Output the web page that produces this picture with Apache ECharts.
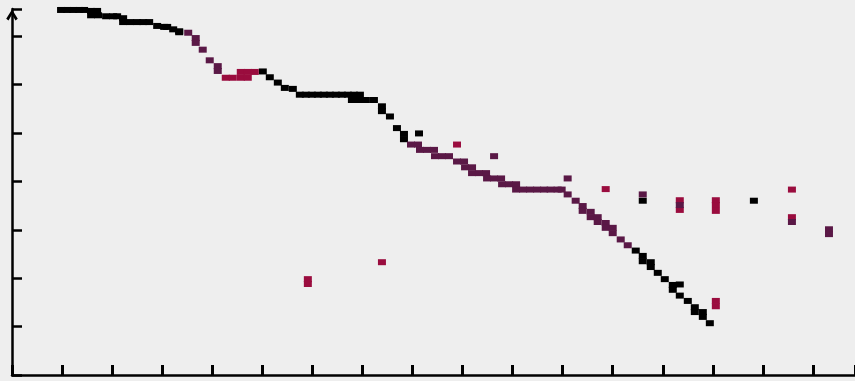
<!DOCTYPE html>
<html>
<head>
<meta charset="utf-8">
<script src="https://cdn.jsdelivr.net/npm/echarts@6/dist/echarts.min.js"></script>
<style>
  html, body { margin: 0; padding: 0; background: #eeeeee; }
  #chart { width: 855px; height: 381px; }
</style>
</head>
<body>
<div id="chart"></div>
<script>
// points, [x, y] in axis units (1 unit = 1 tick)
const blackPoints = [
  [0.98, 7.54], [1.10, 7.54], [1.22, 7.54], [1.34, 7.54], [1.44, 7.54],
  [1.58, 7.52], [1.70, 7.52], [1.58, 7.43], [1.72, 7.43],
  [1.88, 7.41], [2.02, 7.41], [2.10, 7.41],
  [2.22, 7.37], [2.22, 7.29], [2.36, 7.29], [2.50, 7.29], [2.62, 7.29], [2.74, 7.29],
  [2.90, 7.21], [3.04, 7.19], [3.10, 7.19],
  [3.22, 7.14], [3.34, 7.10], [3.34, 7.08],
  [5.01, 6.27], [5.15, 6.15], [5.31, 6.04], [5.45, 5.93], [5.61, 5.91],
  [5.75, 5.79], [5.87, 5.79], [5.99, 5.79], [6.11, 5.79], [6.23, 5.79], [6.35, 5.79],
  [6.47, 5.79], [6.59, 5.79], [6.71, 5.79], [6.83, 5.79], [6.95, 5.79],
  [6.79, 5.68], [6.93, 5.68], [7.07, 5.68], [7.23, 5.68],
  [7.39, 5.55], [7.39, 5.45], [7.55, 5.34], [7.69, 5.10],
  [7.83, 4.98], [7.83, 4.87], [8.13, 4.99],
  [12.46, 2.57], [12.60, 2.46], [12.60, 2.35], [12.76, 2.33], [12.76, 2.23],
  [12.90, 2.11], [13.04, 1.98], [13.20, 1.86], [13.20, 1.76], [13.34, 1.87],
  [13.34, 1.64], [13.50, 1.53], [13.64, 1.40], [13.64, 1.30], [13.80, 1.30],
  [13.80, 1.20], [13.94, 1.07],
  [12.60, 3.60], [14.82, 3.60]
];

const purplePoints = [
  [3.52, 7.07], [3.67, 6.96], [3.67, 6.86], [3.81, 6.72], [3.95, 6.50], [4.11, 6.38], [4.11, 6.28],
  [7.97, 4.76], [8.11, 4.76],
  [8.15, 4.65], [8.29, 4.65], [8.43, 4.65],
  [8.45, 4.52], [8.59, 4.52], [8.73, 4.52],
  [8.89, 4.41], [9.03, 4.41],
  [9.05, 4.29], [9.19, 4.29],
  [9.19, 4.17], [9.33, 4.17], [9.47, 4.17],
  [9.49, 4.06], [9.63, 4.06], [9.77, 4.06],
  [9.79, 3.94], [9.93, 3.94], [10.07, 3.94],
  [10.07, 3.83], [10.21, 3.83], [10.35, 3.83], [10.49, 3.83], [10.63, 3.83],
  [10.76, 3.83], [10.90, 3.83], [10.98, 3.83],
  [9.63, 4.52], [11.10, 4.06],
  [11.10, 3.73], [11.26, 3.60], [11.40, 3.49], [11.40, 3.39], [11.56, 3.37], [11.56, 3.26],
  [11.70, 3.26], [11.70, 3.16], [11.86, 3.14], [11.86, 3.04], [12.00, 3.04], [12.00, 2.93],
  [12.16, 2.80], [12.30, 2.68],
  [12.60, 3.73], [15.58, 3.16], [16.32, 3.01], [16.32, 2.91]
];

const crimsonPoints = [
  [4.27, 6.14], [4.41, 6.14], [4.57, 6.14], [4.57, 6.26], [4.71, 6.26], [4.71, 6.14], [4.85, 6.26],
  [5.91, 1.98], [5.91, 1.88], [7.39, 2.33], [8.89, 4.76], [11.86, 3.84],
  [13.34, 3.61], [13.34, 3.41],
  [14.06, 3.61], [14.06, 3.51], [14.06, 3.39], [14.06, 1.53], [14.06, 1.42],
  [15.58, 3.83], [15.58, 3.26]
];

const purpleOverlay = [[13.34, 3.51]];

const chart = echarts.init(document.getElementById('chart'));

const dotSeries = (data, color) => ({
  type: 'scatter',
  data: data,
  symbol: 'rect',
  symbolSize: [8, 6],
  clip: false,
  silent: true,
  itemStyle: { color: color, opacity: 1 }
});

// open chevron like the reference's arrow head
const arrowHead = 'path://M0,8 L5,0 L10,8 L8,9.5 L5,4.4 L2,9.5 Z';

chart.setOption({
  backgroundColor: '#eeeeee',
  animation: false,
  grid: { left: 12, right: 0, top: 9, bottom: 6 },
  xAxis: {
    type: 'value',
    min: 0,
    max: 16.84,
    interval: 1,
    axisLine: { show: true, lineStyle: { color: '#000', width: 2.5 } },
    axisTick: { show: true, inside: true, length: 10, lineStyle: { color: '#000', width: 3 } },
    axisLabel: { show: false },
    splitLine: { show: false }
  },
  yAxis: {
    type: 'value',
    min: 0,
    max: 7.56,
    interval: 1,
    axisLine: {
      show: true,
      symbol: ['none', arrowHead],
      symbolSize: [13, 11],
      symbolOffset: [0, -6],
      lineStyle: { color: '#000', width: 2.5 }
    },
    axisTick: { show: true, inside: true, length: 10, lineStyle: { color: '#000', width: 2.5 } },
    axisLabel: { show: false },
    splitLine: { show: false }
  },
  series: [
    dotSeries(blackPoints, '#000000'),
    dotSeries(crimsonPoints, '#9a0c3e'),
    dotSeries(purplePoints, '#5a1846'),
    dotSeries(purpleOverlay, '#5a1846')
  ]
});
</script>
</body>
</html>
